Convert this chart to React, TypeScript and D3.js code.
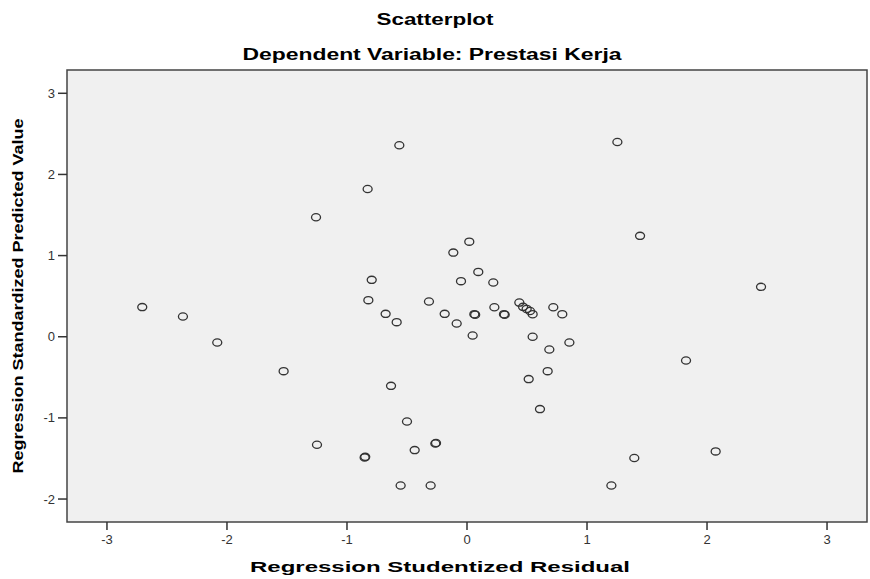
import React from 'react';
import * as d3 from 'd3';

// residual (x) and predicted value (y) pairs
const residuals = [
  -2.706, -2.367, -2.081, -1.528, -1.258, 1.442, 0.019, -0.114, 0.094, -0.794,
  -0.05, 0.219, -0.822, -0.317, 0.436, 0.467, 0.497, 0.525, 0.547, 0.719,
  0.794, -0.678, -0.586, -0.186, -0.086, 0.061, 0.068, 0.228, 0.308, 0.314,
  0.047, 0.547, 0.686, 0.853, 0.672, 0.514, -0.633, -0.564, -0.828, 1.253,
  2.45, 1.825, -0.5, -1.25, -0.853, -0.848, -0.436, -0.264, -0.258, -0.553,
  -0.303, 0.608, 1.394, 2.072, 1.203,
];
const predicted = [
  0.365, 0.249, -0.071, -0.424, 1.473, 1.243, 1.172, 1.037, 0.799, 0.701,
  0.685, 0.668, 0.451, 0.434, 0.421, 0.368, 0.343, 0.318, 0.278, 0.364,
  0.278, 0.282, 0.18, 0.282, 0.163, 0.278, 0.272, 0.364, 0.278, 0.272,
  0.015, -0.001, -0.157, -0.071, -0.424, -0.522, -0.605, 2.36, 1.82, 2.4,
  0.615, -0.293, -1.044, -1.331, -1.487, -1.48, -1.397, -1.315, -1.31, -1.833,
  -1.833, -0.892, -1.495, -1.413, -1.833,
];
const xTicks = [-3, -2, -1, 0, 1, 2, 3];
const yTicks = [-2, -1, 0, 1, 2, 3];

const title = 'Scatterplot';
const subtitle = 'Dependent Variable: Prestasi Kerja';
const xLabel = 'Regression Studentized Residual';
const yLabel = 'Regression Standardized Predicted Value';

const W = 870;
const H = 579;
const plot = { l: 67, r: 867, t: 70, b: 522 };
const font = 'Arial, "Liberation Sans", sans-serif';
const ink = '#333';

export default function App() {
  const x = d3.scaleLinear().domain([-3.333, 3.333]).range([plot.l, plot.r]);
  const y = d3.scaleLinear().domain([-2.283, 3.287]).range([plot.b, plot.t]);
  const pts = d3.zip(residuals, predicted);

  return (
    <svg width={W} height={H} style={{ position: 'absolute', left: 0, top: 0 }} fontFamily={font}>
      <rect width={W} height={H} fill="#fff" />
      <text x={435} y={25} textAnchor="middle" fontWeight="bold" fontSize={16}
        textLength={117} lengthAdjust="spacingAndGlyphs">{title}</text>
      <text x={432} y={60} textAnchor="middle" fontWeight="bold" fontSize={16}
        textLength={379} lengthAdjust="spacingAndGlyphs">{subtitle}</text>

      <rect x={plot.l} y={plot.t} width={plot.r - plot.l} height={plot.b - plot.t}
        fill="#f0f0f0" stroke="#444" strokeWidth={1.5} />

      {yTicks.map((t) => (
        <g key={'y' + t}>
          <line x1={plot.l - 9} x2={plot.l} y1={y(t)} y2={y(t)} stroke={ink} strokeWidth={1.5} />
          <text x={55} y={y(t)} dy="0.35em" textAnchor="end" fontSize={13} fill={ink}>{t}</text>
        </g>
      ))}
      {xTicks.map((t) => (
        <g key={'x' + t}>
          <line x1={x(t)} x2={x(t)} y1={plot.b} y2={plot.b + 8} stroke={ink} strokeWidth={1.5} />
          <text x={x(t)} y={544} textAnchor="middle" fontSize={13} fill={ink}>{t}</text>
        </g>
      ))}

      {pts.map(([a, b], i) => (
        <ellipse key={i} cx={x(a)} cy={y(b)} rx={4.5} ry={3.6}
          fill="none" stroke="#333" strokeWidth={1.3} />
      ))}

      <text x={440} y={572} textAnchor="middle" fontWeight="bold" fontSize={15}
        textLength={380} lengthAdjust="spacingAndGlyphs">{xLabel}</text>
      <text transform="translate(23,296) rotate(-90)" textAnchor="middle" fontWeight="bold"
        fontSize={14} textLength={355} lengthAdjust="spacingAndGlyphs">{yLabel}</text>
    </svg>
  );
}
